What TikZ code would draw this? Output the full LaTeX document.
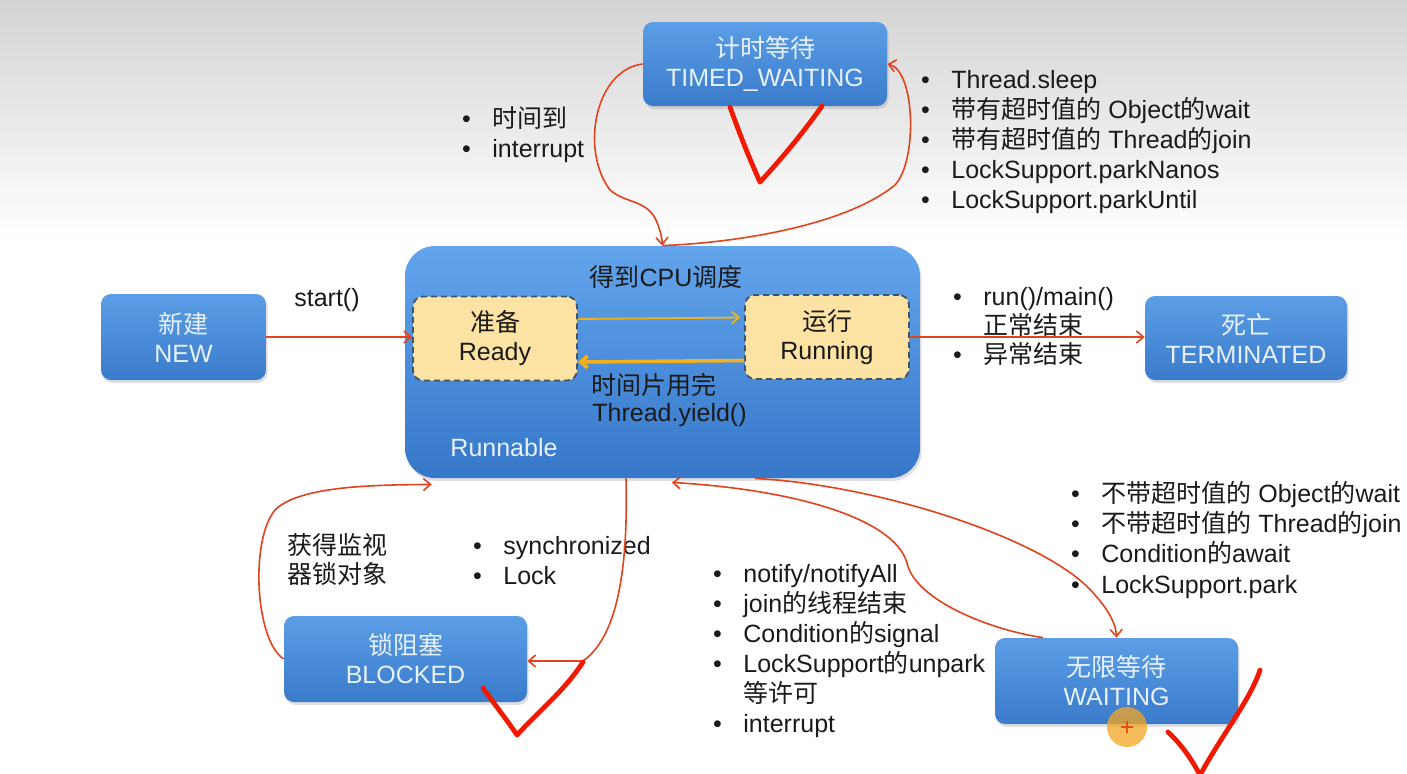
\documentclass[tikz,border=0pt]{standalone}
\usepackage{fontspec}
\setmainfont{Liberation Sans}
\newfontfamily\cjk{Noto Sans CJK SC}
\newcommand\zh[1]{{\cjk #1}}
\newcommand\bul{\llap{\textbullet\hspace{10.8pt}}}
\usetikzlibrary{arrows.meta,shadows,calc}
\definecolor{boxtop}{HTML}{5B9EE6}
\definecolor{boxbot}{HTML}{3A7BCB}
\definecolor{boxtxt}{HTML}{E8F1FB}
\definecolor{runtop}{HTML}{62A5EC}
\definecolor{runbot}{HTML}{3677C9}
\definecolor{yel}{HTML}{FDE3A3}
\definecolor{dashc}{HTML}{3E5368}
\definecolor{orng}{HTML}{F2B11D}
\definecolor{redl}{HTML}{E2431E}
\definecolor{chk}{HTML}{F11A00}
\definecolor{txtc}{HTML}{1A1A1A}
\definecolor{cursor}{HTML}{F5A623}
\tikzset{
  statebox/.style={rounded corners=5pt, top color=boxtop, bottom color=boxbot,
    text=boxtxt, align=center, inner sep=0pt,
    font=\fontsize{12.5}{14.5}\selectfont,
    drop shadow={opacity=0.25, shadow xshift=0.8pt, shadow yshift=-1.5pt}},
  subbox/.style={rounded corners=5pt, fill=yel, draw=dashc, line width=0.9pt,
    dash pattern=on 3pt off 2pt, text=txtc, align=center, inner sep=0pt,
    minimum width=82pt, minimum height=42pt,
    font=\fontsize{12.5}{14.5}\selectfont},
  lst/.style={anchor=base west, inner sep=0pt, text=txtc,
    font=\fontsize{12.5}{15}\selectfont},
  lbl/.style={inner sep=0pt, text=txtc, font=\fontsize{12.5}{15}\selectfont},
  redarrow/.style={draw=redl, line width=0.8pt, -{Straight Barb[length=3.5pt,width=6pt]}},
  orarrow/.style={draw=orng, -{Straight Barb[length=3.5pt,width=6pt]}},
  checkmark/.style={draw=chk, line width=2.4pt, line cap=round, line join=round}
}
\begin{document}
\begin{tikzpicture}[x=0.5pt, y=-0.5pt]
\useasboundingbox (0,0) rectangle (1407,773);
\fill[white] (0,0) rectangle (1407,773);
\shade[top color=black!17, bottom color=white] (0,0) rectangle (1407,240);

% state boxes
\node[statebox, minimum width=122pt, minimum height=42pt] (tw) at (765,64)
  {\zh{计时等待}\\TIMED\_WAITING};
\node[statebox, minimum width=82.5pt, minimum height=43pt] (new) at (183.5,337)
  {\zh{新建}\\NEW};
\node[rounded corners=15pt, top color=runtop, bottom color=runbot, inner sep=0pt,
  minimum width=257.5pt, minimum height=116pt,
  drop shadow={opacity=0.25, shadow xshift=0.8pt, shadow yshift=-1.5pt}] (run) at (662.5,362) {};
\node[statebox, minimum width=101pt, minimum height=42pt] (term) at (1246,338)
  {\zh{死亡}\\TERMINATED};
\node[statebox, minimum width=121.5pt, minimum height=43pt] (blocked) at (405.5,659)
  {\zh{锁阻塞}\\BLOCKED};
\node[statebox, minimum width=121.5pt, minimum height=43pt] (waiting) at (1116.5,681)
  {\zh{无限等待}\\WAITING};

% inside runnable
\node[subbox] (ready) at (495,338.5) {\zh{准备}\\Ready};
\node[subbox] (running) at (827,337) {\zh{运行}\\Running};
\node[lbl] (cpu) at (666,277) {\zh{得到}CPU\zh{调度}};
\node[lst] (slice) at (591,394) {\zh{时间片用完}};
\node[lst] (yield) at (592,421) {Thread.yield()};
\node[lbl, text=boxtxt] (runnable) at (504,448) {Runnable};

\draw[orarrow, line width=0.9pt] ([yshift=9.75pt]ready.east) -- ([yshift=9.75pt,xshift=-2pt]running.west);
\draw[orarrow, line width=1.8pt] ([yshift=-11.75pt]running.west) -- ([yshift=-11.75pt]ready.east);

% labels
\node[lbl] (start) at (327,300) {start()};
\node[lst] (ti1) at (492,127) {\bul\zh{时间到}};
\node[lst] (ti2) at (492,157) {\bul interrupt};
\node[lst] (tw1) at (951,88) {\bul Thread.sleep};
\node[lst] (tw2) at (951,118) {\bul\zh{带有超时值的} Object\zh{的}wait};
\node[lst] (tw3) at (951,148) {\bul\zh{带有超时值的} Thread\zh{的}join};
\node[lst] (tw4) at (951,178) {\bul LockSupport.parkNanos};
\node[lst] (tw5) at (951,208) {\bul LockSupport.parkUntil};
\node[lst] (rm1) at (983,305) {\bul run()/main()};
\node[lst] (rm2) at (983,334) {\zh{正常结束}};
\node[lst] (rm3) at (983,363) {\bul\zh{异常结束}};
\node[lst] (mon1) at (287,554) {\zh{获得监视}};
\node[lst] (mon2) at (287,583) {\zh{器锁对象}};
\node[lst] (sy1) at (503,554) {\bul synchronized};
\node[lst] (sy2) at (503,584) {\bul Lock};
\node[lst] (w1) at (1101,502) {\bul\zh{不带超时值的} Object\zh{的}wait};
\node[lst] (w2) at (1101,532) {\bul\zh{不带超时值的} Thread\zh{的}join};
\node[lst] (w3) at (1101,562) {\bul Condition\zh{的}await};
\node[lst] (w4) at (1101,593) {\bul LockSupport.park};
\node[lst] (n1) at (743,582) {\bul notify/notifyAll};
\node[lst] (n2) at (743,612) {\bul join\zh{的线程结束}};
\node[lst] (n3) at (743,642) {\bul Condition\zh{的}signal};
\node[lst] (n4) at (743,672) {\bul LockSupport\zh{的}unpark};
\node[lst] (n5) at (743,702) {\zh{等许可}};
\node[lst] (n6) at (743,732) {\bul interrupt};

% connectors
\draw[redarrow] (new.east) -- (new.east -| ready.west);
\draw[redarrow] (running.east) -- (running.east -| term.west);
\draw[redarrow] (tw.west) .. controls (595,70) and (580,150) .. (610,190)
  .. controls (625,203) and (645,200) .. (655,218)
  .. controls (660,228) and (662,238) .. (run.north);
\draw[redarrow] (run.north) .. controls (750,242) and (850,222) .. (895,185)
  .. controls (918,160) and (915,70) .. (tw.east);
\draw[redarrow] (blocked.west) .. controls (255,640) and (250,540) .. (275,510)
  .. controls (300,485) and (380,485) .. ([xshift=13.5pt,yshift=-3pt]run.south west);
\draw[redarrow] ([xshift=-18.25pt]run.south) .. controls (628,560) and (620,635) .. (583,661)
  -- ([yshift=-1pt]blocked.east);
\draw[redarrow] ([xshift=-36.75pt]waiting.north) .. controls (990,630) and (915,600) .. (907,563)
  .. controls (895,520) and (800,490) .. ([xshift=4.75pt,yshift=-2pt]run.south);
\draw[redarrow] ([xshift=46.25pt]run.south) .. controls (880,485) and (1050,540) .. (1095,595)
  .. controls (1110,612) and (1116,625) .. (waiting.north);

% hand-drawn check marks
\draw[checkmark] (730,107) .. controls (740,135) and (750,160) .. (760,182)
  .. controls (785,155) and (805,130) .. (822,106);
\draw[checkmark] (483,688) .. controls (495,705) and (507,720) .. (517,735)
  .. controls (540,710) and (565,690) .. (583,662);
\draw[checkmark] (1168,732) .. controls (1182,745) and (1192,760) .. (1200,775)
  .. controls (1225,730) and (1250,700) .. (1260,670);

% cursor
\fill[cursor, opacity=0.75] (1127,727) circle (10pt);
\draw[redl!80!orange, line width=0.7pt] (1121,727) -- (1133,727) (1127,721) -- (1127,733);
\end{tikzpicture}
\end{document}
